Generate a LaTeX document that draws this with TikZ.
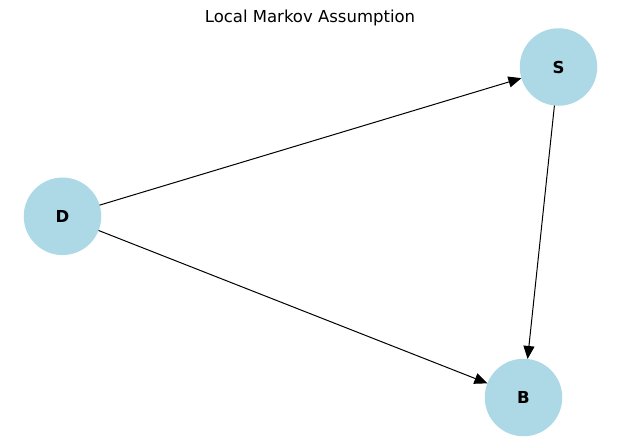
\documentclass[tikz,border=0pt]{standalone}
\usepackage{fontspec}
\setmainfont{DejaVu Sans}
\usetikzlibrary{arrows.meta}
\definecolor{nodeblue}{RGB}{173,216,230}
\tikzset{
  vert/.style={circle, fill=nodeblue, minimum size=77.5pt, inner sep=0pt, outer sep=0pt, font=\fontsize{16.5}{19}\selectfont\bfseries},
  edge/.style={line width=1pt, -{Triangle[length=13pt,width=11pt]}},
  titletext/.style={font=\fontsize{16.5}{19}\selectfont}
}
\begin{document}
\begin{tikzpicture}[x=1pt,y=-1pt]
\useasboundingbox (0,0) rectangle (619,442);
\node[titletext] (title) at (310,18) {Local Markov Assumption};
\node[vert] (D) at (62.5,216.3) {D};
\node[vert] (S) at (558.5,67) {S};
\node[vert] (B) at (523.5,397.5) {B};
\draw[edge] (D) -- (S);
\draw[edge] (D) -- (B);
\draw[edge] (S) -- (B);
\end{tikzpicture}
\end{document}
